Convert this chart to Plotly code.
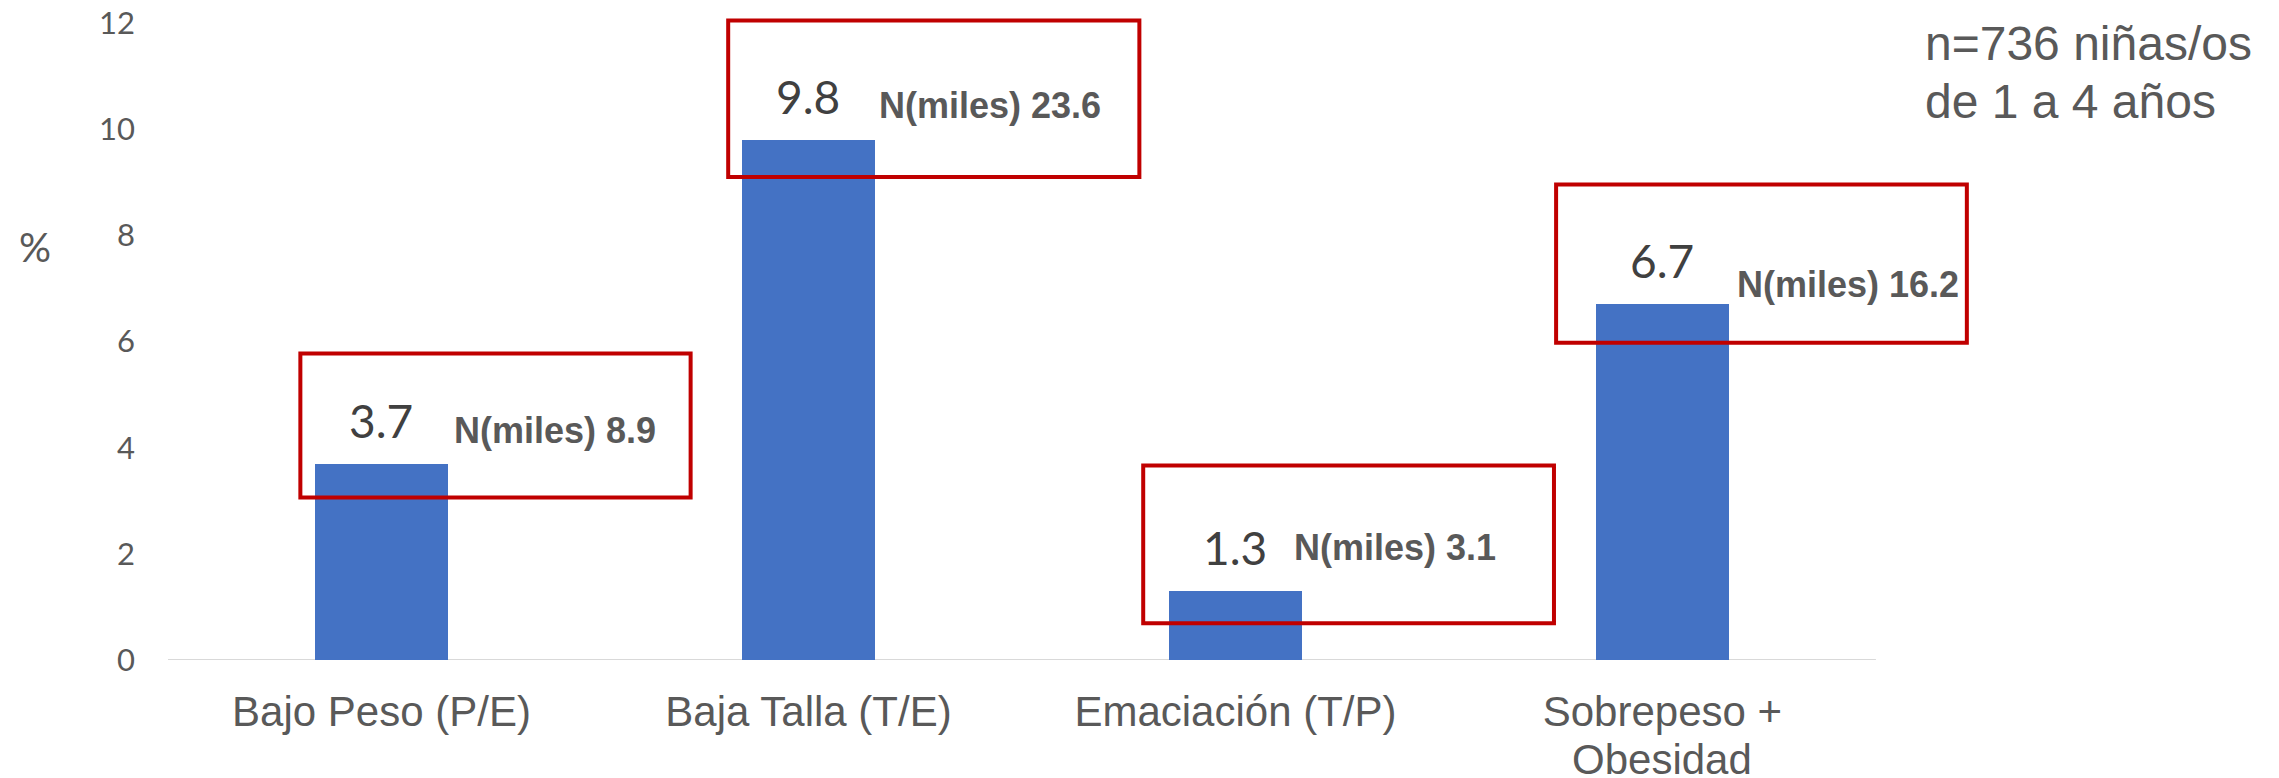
import plotly.graph_objects as go

# ---- data ----
categories = ["Bajo Peso (P/E)", "Baja Talla (T/E)", "Emaciación (T/P)", "Sobrepeso +<br>Obesidad"]
pct = [3.7, 9.8, 1.3, 6.7]
n_miles = [8.9, 23.6, 3.1, 16.2]
y_ticks = [0, 2, 4, 6, 8, 10, 12]
note_lines = ["n=736 niñas/os", "de 1 a 4 años"]
y_label = "%"

# ---- placement offsets (relative to each bar) ----
box_dx = [(-0.190, 0.724), (-0.188, 0.775), (-0.216, 0.746), (-0.249, 0.713)]
box_dy = [(-0.636, 2.076), (-0.696, 2.253), (-0.609, 2.367), (-0.723, 2.259)]
nlab_dx = [0.165, 0.160, 0.132, 0.170]
nlab_shift = [11, 12, 21, -3]

xs = list(range(len(categories)))
cat_font = dict(family="Liberation Sans", size=42, color="#595959")

fig = go.Figure()
fig.add_bar(x=xs, y=pct, width=0.312, marker=dict(color="#4472C4", line=dict(width=0)),
            hoverinfo="skip", showlegend=False)

shapes = [dict(type="line", xref="x", yref="y", x0=-0.5, x1=len(categories) - 0.5, y0=0, y1=0,
               line=dict(color="#D9D9D9", width=2), layer="below")]
annotations = []

# category labels: first line as tick text, following lines as tighter-spaced annotations
tick_text = []
for i, c in enumerate(categories):
    parts = c.split("<br>")
    tick_text.append(parts[0])
    for k, extra in enumerate(parts[1:], start=1):
        annotations.append(dict(x=i, y=0, xref="x", yref="y", text=extra, showarrow=False,
                                xanchor="center", yanchor="middle", yshift=-49 - 50 * k,
                                font=cat_font))

for i, (v, n) in enumerate(zip(pct, n_miles)):
    shapes.append(dict(type="rect", xref="x", yref="y",
                       x0=i + box_dx[i][0], x1=i + box_dx[i][1],
                       y0=v + box_dy[i][0], y1=v + box_dy[i][1],
                       line=dict(color="#C00000", width=4), fillcolor="rgba(0,0,0,0)"))
    annotations.append(dict(x=i, y=v, xref="x", yref="y", text=f"{v:.1f}", showarrow=False,
                            xanchor="center", yanchor="bottom", yshift=14,
                            font=dict(family="Lato", size=46, color="#404040")))
    annotations.append(dict(x=i + nlab_dx[i], y=v, xref="x", yref="y",
                            text=f"<b>N(miles) {n}</b>", showarrow=False,
                            xanchor="left", yanchor="bottom", yshift=nlab_shift[i],
                            font=dict(family="Liberation Sans", size=36, color="#595959")))

annotations.append(dict(x=0.9559, y=0.948, xref="paper", yref="paper", text=note_lines[0],
                        showarrow=False, xanchor="left", yanchor="middle",
                        font=dict(family="Liberation Sans", size=48, color="#595959")))
annotations.append(dict(x=0.9559, y=0.860, xref="paper", yref="paper", text=note_lines[1],
                        showarrow=False, xanchor="left", yanchor="middle",
                        font=dict(family="Liberation Sans", size=48, color="#595959")))
annotations.append(dict(x=-0.0723, y=0.636, xref="paper", yref="paper", text=y_label,
                        showarrow=False, xanchor="center", yanchor="middle",
                        font=dict(family="Lato", size=40, color="#595959")))

fig.update_layout(
    width=2271, height=770,
    margin=dict(l=160, r=275, t=2, b=118, pad=0, autoexpand=False),
    paper_bgcolor="white", plot_bgcolor="white",
    shapes=shapes, annotations=annotations,
    xaxis=dict(range=[-0.5, 3.8], tickvals=xs, ticktext=tick_text, showgrid=False,
               zeroline=False, showline=False, ticks="", ticklabelstandoff=23, automargin=False,
               ticklabeloverflow="allow", tickfont=cat_font),
    yaxis=dict(range=[0, 12.25], tickvals=y_ticks, showgrid=False, zeroline=False,
               showline=False, ticks="", ticklabelstandoff=32, automargin=False,
               ticklabeloverflow="allow",
               tickfont=dict(family="Lato", size=31, color="#595959")),
    bargap=0,
)

fig.write_html("out.html")
